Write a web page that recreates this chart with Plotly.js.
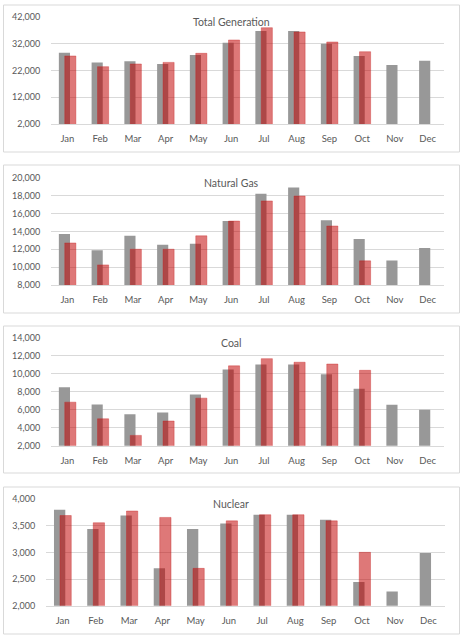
<!DOCTYPE html>
<html>
<head>
<meta charset="utf-8">
<script src="https://cdn.plot.ly/plotly-3.0.1.min.js"></script>
<style>
html,body{margin:0;padding:0;background:#fff;}
#chart{width:465px;height:640px;}
</style>
</head>
<body>
<div id="chart"></div>
<script>
// ---- data ----
var months = ["Jan","Feb","Mar","Apr","May","Jun","Jul","Aug","Sep","Oct","Nov","Dec"];
var panelTitles = ["Total Generation","Natural Gas","Coal","Nuclear"];

var totalPrev = [28750,25100,25500,24500,27900,32500,36900,36900,32100,27500,24100,25750];
var totalCurr = [27500,23500,24500,25100,28500,33500,38100,36500,32750,29100,null,null];

var gasPrev = [13700,11900,13500,12500,12600,15150,18200,18900,15250,13150,10750,12150];
var gasCurr = [12700,10250,12000,12000,13500,15150,17400,17950,14600,10700,null,null];

var coalPrev = [8500,6600,5500,5700,7700,10500,11050,11050,9950,8350,6550,6000];
var coalCurr = [6850,5000,3150,4750,7300,10900,11700,11300,11100,10400,null,null];

var nuclearPrev = [3800,3440,3690,2700,3440,3540,3705,3705,3610,2445,2265,2990];
var nuclearCurr = [3690,3555,3775,3655,2700,3590,3705,3705,3590,3000,null,null];

// ---- layout helpers ----
var W = 465, H = 640;
function py(p){ return 1 - p / H; }
function px(p){ return p / W; }

var panels = [
  {prev: totalPrev, curr: totalCurr, range: [2000,42000], tick0: 2000, dtick: 10000,
   plot: [17.3,124], x: [51,444], border: [5,152], titleY: 21.7},
  {prev: gasPrev, curr: gasCurr, range: [8000,20000], tick0: 8000, dtick: 2000,
   plot: [177.7,285], x: [51,444], border: [165,313], titleY: 182.7},
  {prev: coalPrev, curr: coalCurr, range: [2000,14000], tick0: 2000, dtick: 2000,
   plot: [338,445.7], x: [51,444], border: [326,473], titleY: 343.3},
  {prev: nuclearPrev, curr: nuclearCurr, range: [2000,4000], tick0: 2000, dtick: 500,
   plot: [499,605.7], x: [46,445], border: [487,634], titleY: 503.7}
];

var FONT = "Lato, 'Open Sans', sans-serif";
var TXT = "#595959";
var GRID = "#d9d9d9";

var traces = [];
var layout = {
  width: W, height: H,
  margin: {l:0, r:0, t:0, b:0},
  paper_bgcolor: "#fff",
  plot_bgcolor: "rgba(0,0,0,0)",
  barmode: "overlay",
  showlegend: false,
  font: {family: FONT, color: TXT, size: 9.5},
  shapes: [],
  annotations: []
};

panels.forEach(function(p, i){
  var n = i + 1;
  var xa = n === 1 ? "x" : "x" + n;
  var ya = n === 1 ? "y" : "y" + n;
  traces.push({
    type: "bar", x: months, y: p.prev, xaxis: xa, yaxis: ya,
    width: 0.34, offset: -0.26,
    marker: {color: "#989898", line: {width: 0}}
  });
  traces.push({
    type: "bar", x: months, y: p.curr, xaxis: xa, yaxis: ya,
    width: 0.34, offset: -0.08,
    marker: {color: "rgba(192,0,0,0.53)", line: {width: 0.8, color: "rgba(200,30,30,0.45)"}}
  });
  var xKey = n === 1 ? "xaxis" : "xaxis" + n;
  var yKey = n === 1 ? "yaxis" : "yaxis" + n;
  layout[xKey] = {
    domain: [px(p.x[0]), px(p.x[1])],
    anchor: ya,
    type: "category",
    range: [-0.5, 11.5],
    showgrid: false,
    showline: true, linecolor: GRID, linewidth: 1,
    ticks: "outside", ticklen: 6, tickcolor: "rgba(0,0,0,0)",
    tickfont: {family: FONT, color: TXT, size: 9.5},
    fixedrange: true
  };
  layout[yKey] = {
    domain: [py(p.plot[1]), py(p.plot[0])],
    anchor: xa,
    range: p.range,
    tick0: p.tick0, dtick: p.dtick,
    tickformat: ",d",
    showgrid: true, gridcolor: GRID, gridwidth: 1,
    zeroline: false, showline: false,
    ticks: "outside", ticklen: 8, tickcolor: "rgba(0,0,0,0)",
    tickfont: {family: FONT, color: TXT, size: 9},
    fixedrange: true
  };
  layout.shapes.push({
    type: "rect", xref: "paper", yref: "paper",
    x0: px(3.5), x1: px(459.5), y0: py(p.border[1]), y1: py(p.border[0]),
    line: {color: GRID, width: 1}, fillcolor: "rgba(0,0,0,0)", layer: "below"
  });
  layout.annotations.push({
    xref: "paper", yref: "paper", x: px(231), y: py(p.titleY),
    xanchor: "center", yanchor: "middle", showarrow: false,
    text: panelTitles[i],
    font: {family: FONT, color: TXT, size: 10.5}
  });
});

Plotly.newPlot("chart", traces, layout, {staticPlot: true, displayModeBar: false});
</script>
</body>
</html>
